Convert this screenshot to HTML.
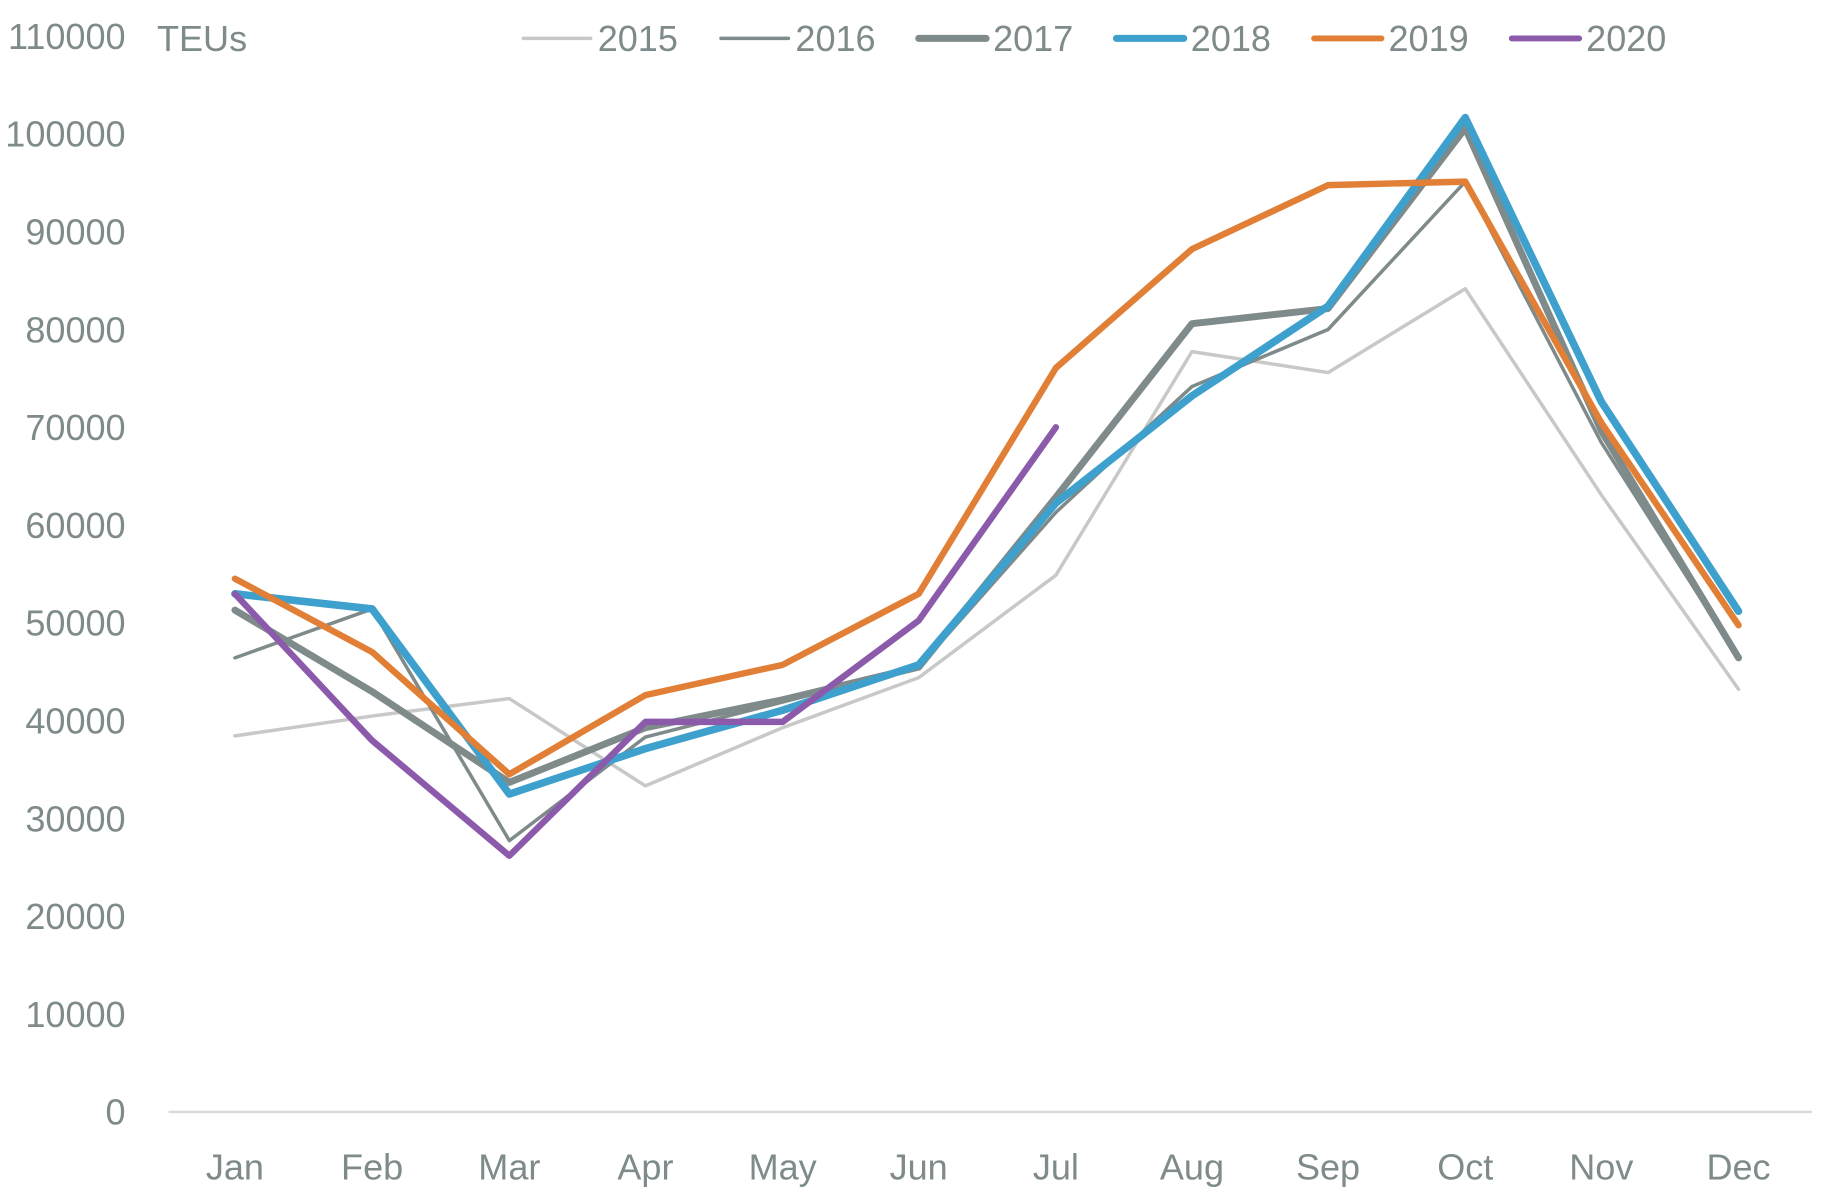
<!DOCTYPE html>
<html><head><meta charset="utf-8"><style>
html,body{margin:0;padding:0;background:#fff;}
svg{display:block}
text{font-family:"Liberation Sans",sans-serif;fill:#7f8a8a;font-size:31px}
</style></head><body>
<svg width="1824" height="1194" viewBox="0 0 1568.5 1025.5" preserveAspectRatio="none" xmlns="http://www.w3.org/2000/svg">
<rect width="1570" height="1030" fill="#fff"/>
<line x1="145" y1="955" x2="1558" y2="955" stroke="#d9d9d9" stroke-width="2"/>
<g text-anchor="end">
<text x="108" y="966">0</text>
<text x="108" y="882">10000</text>
<text x="108" y="798">20000</text>
<text x="108" y="714">30000</text>
<text x="108" y="630">40000</text>
<text x="108" y="546">50000</text>
<text x="108" y="462">60000</text>
<text x="108" y="378">70000</text>
<text x="108" y="294">80000</text>
<text x="108" y="210">90000</text>
<text x="108" y="126">100000</text>
<text x="108" y="42">110000</text>
</g>
<text x="135" y="44">TEUs</text>
<g text-anchor="middle">
<text x="202" y="1013">Jan</text><text x="320" y="1013">Feb</text><text x="438" y="1013">Mar</text>
<text x="555" y="1013">Apr</text><text x="673" y="1013">May</text><text x="790" y="1013">Jun</text>
<text x="908" y="1013">Jul</text><text x="1025" y="1013">Aug</text><text x="1142" y="1013">Sep</text>
<text x="1260" y="1013">Oct</text><text x="1377" y="1013">Nov</text><text x="1495" y="1013">Dec</text>
</g>
<g fill="none" stroke-linejoin="round" stroke-linecap="round">
<polyline stroke="#c8c8c8" stroke-width="3" points="202,632 320,615 438,600 555,675 673,625 790,582 908,494 1025,302 1142,320 1260,248 1377,425 1495,592"/>
<polyline stroke="#7f8a8a" stroke-width="3" points="202,565 320,523 438,722 555,633 673,603 790,573 908,440 1025,332 1142,283 1260,156 1377,380 1495,565"/>
<polyline stroke="#7f8a8a" stroke-width="6" points="202,524 320,594 438,672 555,625 673,601 790,573 908,427 1025,278 1142,265 1260,110 1377,370 1495,565"/>
<polyline stroke="#3ea0cc" stroke-width="6.5" points="202,510 320,523 438,682 555,643 673,610 790,571 908,432 1025,340 1142,263 1260,101 1377,345 1495,525"/>
<polyline stroke="#e07f35" stroke-width="5.5" points="202,497 320,560 438,665 555,597 673,571 790,510 908,316 1025,214 1142,159 1260,156 1377,363 1495,537"/>
<polyline stroke="#8c5aab" stroke-width="5.5" points="202,510 320,636 438,735 555,620 673,620 790,533 908,367"/>
</g>
<g stroke-linecap="round">
<line x1="450" y1="33" x2="508" y2="33" stroke="#c8c8c8" stroke-width="3"/>
<line x1="620" y1="33" x2="678" y2="33" stroke="#7f8a8a" stroke-width="3"/>
<line x1="790" y1="33" x2="848" y2="33" stroke="#7f8a8a" stroke-width="6"/>
<line x1="960" y1="33" x2="1018" y2="33" stroke="#3ea0cc" stroke-width="6"/>
<line x1="1130" y1="33" x2="1188" y2="33" stroke="#e07f35" stroke-width="5"/>
<line x1="1300" y1="33" x2="1358" y2="33" stroke="#8c5aab" stroke-width="5"/>
</g>
<text x="514" y="44">2015</text><text x="684" y="44">2016</text><text x="854" y="44">2017</text>
<text x="1024" y="44">2018</text><text x="1194" y="44">2019</text><text x="1364" y="44">2020</text>
</svg>
</body></html>
